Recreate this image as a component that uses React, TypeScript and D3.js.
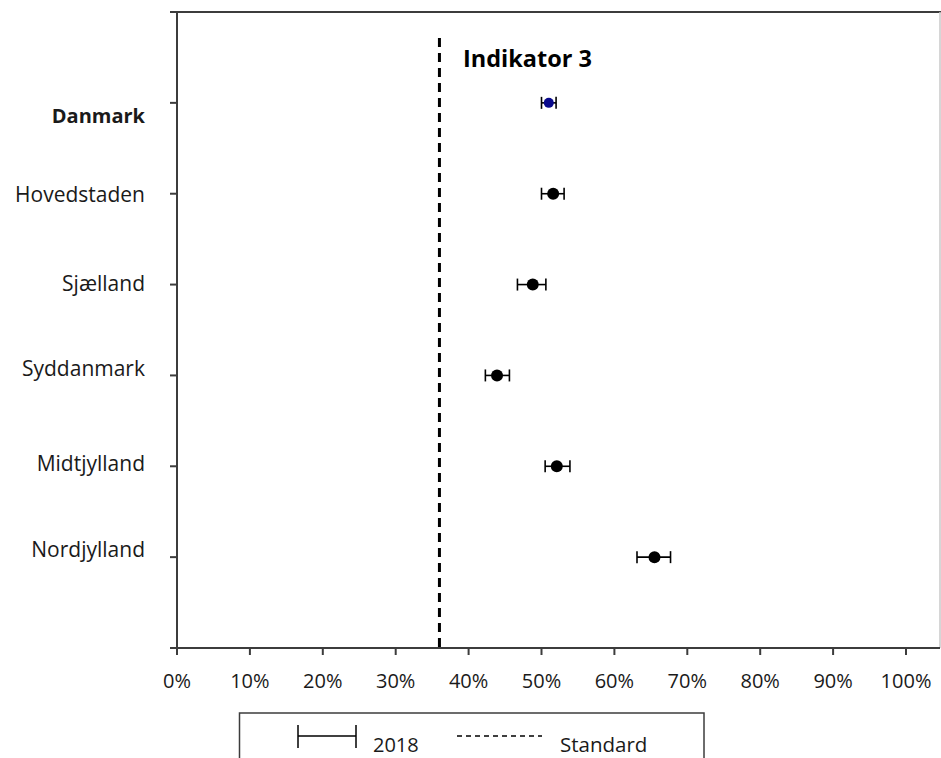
import React from "react";
import * as d3 from "d3";

const regions = ["Danmark", "Hovedstaden", "Sjælland", "Syddanmark", "Midtjylland", "Nordjylland"];
const estimates = [0.510, 0.516, 0.488, 0.439, 0.521, 0.655];
const lower = [0.500, 0.500, 0.467, 0.423, 0.505, 0.631];
const upper = [0.520, 0.531, 0.506, 0.456, 0.539, 0.677];
const standardValue = 0.36;
const xTicks = [0, 0.1, 0.2, 0.3, 0.4, 0.5, 0.6, 0.7, 0.8, 0.9, 1.0];
const chartTitle = "Indikator 3";
const legendSeries = "2018";
const legendStandard = "Standard";

// layout
const W = 941, H = 758;
const left = 177, right = 940, top = 12, bottom = 648;
const labelBaselineNudge = [20, 8, 6, 1, 5, 0];
const FONT = "'Open Sans', sans-serif";
const AXIS = "#3c3c3c";
const TEXT = "#1a1a1a";

export default function App() {
  const x = d3.scaleLinear().domain([0, 1]).range([left, 906]);
  const y = d3.scaleLinear().domain([0, regions.length + 1]).range([top, bottom]);
  const fmt = d3.format(".0%");

  return (
    <svg width={W} height={H} style={{ position: "absolute", left: 0, top: 0, background: "#fff" }}>
      <rect x={0} y={0} width={W} height={H} fill="#fff" />
      {/* frame */}
      <line x1={170} x2={W} y1={top} y2={top} stroke={AXIS} strokeWidth={2} />
      <line x1={right} x2={right} y1={top} y2={bottom} stroke="#c8c8c8" strokeWidth={1.5} />
      <line x1={left} x2={left} y1={top} y2={bottom + 1} stroke={AXIS} strokeWidth={2} />
      <line x1={170} x2={right} y1={bottom} y2={bottom} stroke={AXIS} strokeWidth={2} />
      {/* y ticks */}
      {regions.map((r, i) => (
        <line key={"yt" + r} x1={170} x2={left} y1={y(i + 1)} y2={y(i + 1)} stroke={AXIS} strokeWidth={2} />
      ))}
      {/* x ticks */}
      {xTicks.map((t) => (
        <g key={"xt" + t}>
          <line x1={x(t)} x2={x(t)} y1={bottom} y2={bottom + 7} stroke={AXIS} strokeWidth={2} />
          <text x={x(t)} y={688} textAnchor="middle" fontFamily={FONT} fontSize={20} fill={TEXT}>
            {fmt(t)}
          </text>
        </g>
      ))}
      {/* y labels */}
      {regions.map((r, i) => (
        <text
          key={"yl" + r}
          x={145}
          y={y(i + 1) + labelBaselineNudge[i]}
          textAnchor="end"
          fontFamily={FONT}
          fontSize={i === 0 ? 20 : 21}
          fontWeight={i === 0 ? 700 : 400}
          fill={TEXT}
        >
          {r}
        </text>
      ))}
      {/* standard line */}
      <line
        x1={x(standardValue)}
        x2={x(standardValue)}
        y1={38}
        y2={bottom}
        stroke="#000"
        strokeWidth={3}
        strokeDasharray="9,6"
      />
      {/* title */}
      <text x={463} y={67} fontFamily={FONT} fontSize={23.5} fontWeight={700} fill="#000">
        {chartTitle}
      </text>
      {/* error bars and points */}
      {regions.map((r, i) => {
        const cy = y(i + 1);
        const color = i === 0 ? "#0a0a8c" : "#000";
        return (
          <g key={"pt" + r}>
            <line x1={x(lower[i])} x2={x(upper[i])} y1={cy} y2={cy} stroke="#000" strokeWidth={1.6} />
            <line x1={x(lower[i])} x2={x(lower[i])} y1={cy - 6} y2={cy + 6} stroke="#000" strokeWidth={1.6} />
            <line x1={x(upper[i])} x2={x(upper[i])} y1={cy - 6} y2={cy + 6} stroke="#000" strokeWidth={1.6} />
            <circle cx={x(estimates[i])} cy={cy} r={i === 0 ? 5 : 6} fill={color} />
          </g>
        );
      })}
      {/* legend */}
      <rect x={239.5} y={713} width={464.5} height={60} fill="#fff" stroke={AXIS} strokeWidth={1.5} />
      <line x1={298} x2={356} y1={736} y2={736} stroke="#000" strokeWidth={1.5} />
      <line x1={298} x2={298} y1={725} y2={748} stroke="#000" strokeWidth={1.5} />
      <line x1={356} x2={356} y1={725} y2={748} stroke="#000" strokeWidth={1.5} />
      <text x={373} y={752} fontFamily={FONT} fontSize={20} fill={TEXT}>
        {legendSeries}
      </text>
      <line x1={457} x2={542} y1={736} y2={736} stroke="#000" strokeWidth={1.3} strokeDasharray="5,4" />
      <text x={560} y={752} fontFamily={FONT} fontSize={20.5} fill={TEXT}>
        {legendStandard}
      </text>
    </svg>
  );
}
